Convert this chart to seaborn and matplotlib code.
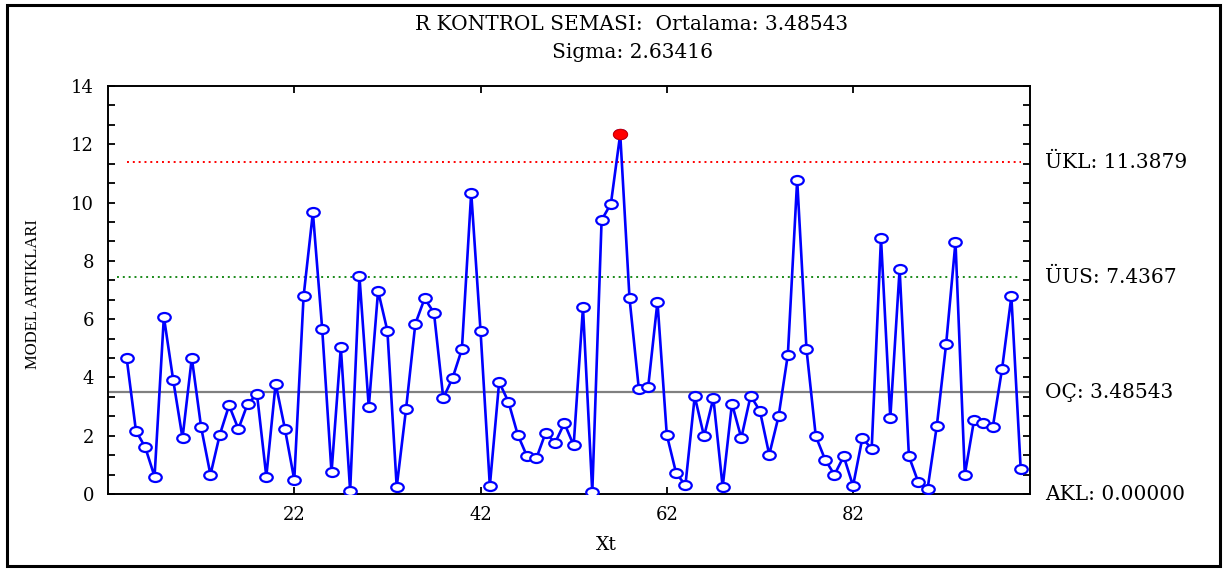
import numpy as np
import pandas as pd
import matplotlib
matplotlib.use("Agg")
import matplotlib.pyplot as plt
from matplotlib.path import Path
from matplotlib.patches import Rectangle
import seaborn as sns

# ---- data ----
x_index = list(range(4, 101))
moving_range = [
    4.67, 2.17, 1.60, 0.60, 6.08, 3.91, 1.92, 4.67, 2.29, 0.66,
    2.03, 3.04, 2.23, 3.10, 3.42, 0.60, 3.79, 2.23, 0.49, 6.78,
    9.66, 5.66, 0.74, 5.03, 0.11, 7.47, 2.98, 6.97, 5.60, 0.24,
    2.91, 5.84, 6.71, 6.22, 3.29, 3.98, 4.97, 10.34, 5.60, 0.28,
    3.84, 3.16, 2.03, 1.29, 1.23, 2.11, 1.75, 2.43, 1.67, 6.40,
    0.06, 9.40, 9.96, 12.35, 6.71, 3.60, 3.67, 6.60, 2.03, 0.72,
    0.30, 3.35, 1.98, 3.29, 0.24, 3.10, 1.92, 3.37, 2.85, 1.35,
    2.66, 4.78, 10.78, 4.97, 1.98, 1.18, 0.66, 1.29, 0.28, 1.92,
    1.55, 8.78, 2.61, 7.72, 1.29, 0.41, 0.17, 2.35, 5.16, 8.65,
    0.66, 2.55, 2.43, 2.29, 4.29, 6.78, 0.86,
]
center_line = 3.48543
upper_warning = 7.4367
upper_control = 11.3879
lower_control = 0.0
sigma = 2.63416
x_ticks = [22, 42, 62, 82]
y_ticks = [0, 2, 4, 6, 8, 10, 12, 14]

df = pd.DataFrame({"Xt": x_index, "R": moving_range})
out = df[df["R"] > upper_control]

# ---- style ----
sns.set_theme(style="ticks")
plt.rcParams["font.family"] = ["DejaVu Serif", "Liberation Serif"]
plt.rcParams["text.color"] = "black"
plt.rcParams["axes.labelcolor"] = "black"
plt.rcParams["xtick.color"] = "black"
plt.rcParams["ytick.color"] = "black"
WIDE = ["DejaVu Serif", "Liberation Serif"]
TIMES = ["Liberation Serif", "DejaVu Serif"]

fig = plt.figure(figsize=(12.28, 5.69), dpi=100)
W, H = 1228, 569
ax = fig.add_axes([108 / W, 1 - 494 / H, (1030 - 108) / W, (494 - 86) / H])

# ellipse marker (wider than tall)
circ = Path.unit_circle()
ell = Path(circ.vertices * np.array([1.0, 0.72]), circ.codes)

# control lines
ax.axhline(center_line, color="#808080", lw=1.6, zorder=1)
ax.hlines(upper_warning, 3, 100, colors="#1a8a1a", linestyles=(0, (1, 2)), lw=1.4, zorder=1)
ax.hlines(upper_control, 4, 100, colors="#ff0000", linestyles=(0, (1, 2)), lw=1.4, zorder=1)

sns.lineplot(data=df, x="Xt", y="R", ax=ax, color="#0000ff", lw=1.9,
             marker=ell, markersize=9, markerfacecolor="white",
             markeredgecolor="#0000ff", markeredgewidth=1.6, zorder=3)
sns.scatterplot(data=out, x="Xt", y="R", ax=ax, color="#ff0000", s=105,
                marker=ell, edgecolor="#cc0000", linewidth=0.8, zorder=4)

ax.set_xlim(2, 101)
ax.set_ylim(0, 14)
ax.set_xticks(x_ticks)
ax.set_xticklabels([str(t) for t in x_ticks], fontsize=13, family=WIDE,
                   color="black")
ax.set_yticks(y_ticks)
ax.set_yticklabels([str(t) for t in y_ticks], fontsize=13, family=WIDE,
                   color="black")
ax.set_yticks(np.arange(0, 14.01, 2 / 3), minor=True)
ax.tick_params(axis="both", which="both", direction="in", length=5, width=1.3,
               colors="black", top=True, right=True)
ax.tick_params(axis="y", which="major", pad=10)
ax.tick_params(axis="x", which="major", pad=9)
ax.tick_params(axis="y", which="minor", left=True, right=True)
ax.set_xlabel("")
ax.set_ylabel("")
for s in ax.spines.values():
    s.set_linewidth(1.4)
    s.set_color("black")

# axis labels
fig.text(606 / W, 1 - 545 / H, "Xt", ha="center", va="center", fontsize=13.5,
         family=WIDE, color="black")
fig.text(33 / W, 1 - 294 / H, "MODEL ARTIKLARI", rotation=90, ha="center",
         va="center", fontsize=12, family=TIMES, color="black")

# titles
fig.text(632 / W, 1 - 25 / H, "R KONTROL SEMASI:  Ortalama: 3.48543",
         ha="center", va="center", fontsize=14.5, family=WIDE, color="black")
fig.text(632 / W, 1 - 53 / H, f"Sigma: {sigma:.5f}", ha="center", va="center",
         fontsize=14.5, family=WIDE, color="black")

# right labels
right_labels = [
    (upper_control, "ÜKL: 11.3879"),
    (upper_warning, "ÜUS: 7.4367"),
    (center_line, "OÇ: 3.48543"),
    (lower_control, "AKL: 0.00000"),
]
for yv, txt in right_labels:
    ax.text(1.016, yv, txt, transform=ax.get_yaxis_transform(), ha="left",
            va="center", fontsize=14.5, family=WIDE, color="black",
            clip_on=False)

# outer frame
fig.patches.append(Rectangle((7 / W, 3 / H), (1220 - 7) / W, (564 - 3) / H,
                             transform=fig.transFigure, fill=False,
                             edgecolor="black", lw=2.2))

fig.savefig("out.png", dpi=100)
